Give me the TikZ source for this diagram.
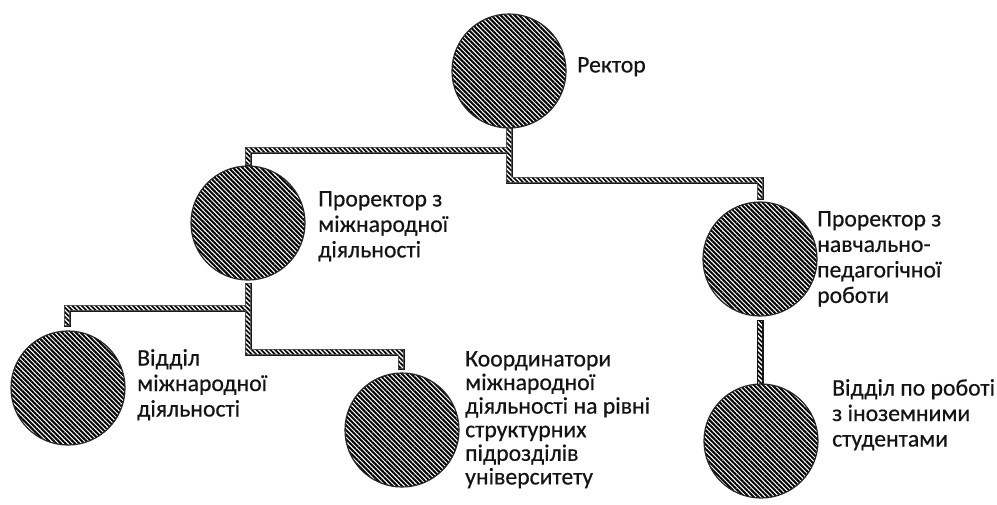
\documentclass[tikz,border=0pt]{standalone}
\usepackage{fontspec}
\setmainfont[FakeBold=0.5]{Carlito}
\usetikzlibrary{patterns.meta,calc}
\newcommand\barseg[2]{($(#1)+(-2.3,-2.3)$) rectangle ($(#2)+(2.3,2.3)$)}
\tikzset{
  unit/.style={circle, minimum size=114pt, inner sep=0pt, draw=black!85, line width=1.2pt,
    preaction={fill=white},
    pattern={Lines[angle=-45,distance=3.3pt,line width=2pt]}},
  lbl/.style={anchor=north west, align=left, inner sep=0pt, text=black!92,
    font=\fontsize{23.7}{25.5}\selectfont},
  barout/.style={line width=7pt, black!90, line cap=rect, line join=miter},
  barfill/.style={preaction={fill=white},
    pattern={Lines[angle=-45,distance=3.3pt,line width=1.7pt]}}
}
\begin{document}
\begin{tikzpicture}[x=1pt,y=-1pt]
\useasboundingbox (0,0) rectangle (997,504);
% junctions
\coordinate (a0) at (509,126);
\coordinate (a1) at (509,150);
\coordinate (a2) at (248,150);
\coordinate (a3) at (248,162);
\coordinate (a4) at (509,180);
\coordinate (a5) at (760,180);
\coordinate (a6) at (760,196);
\coordinate (b0) at (248,286);
\coordinate (b1) at (248,308);
\coordinate (b2) at (67,308);
\coordinate (b3) at (67,323);
\coordinate (b4) at (248,352);
\coordinate (b5) at (401,352);
\coordinate (b6) at (401,366);
\coordinate (c0) at (760,323);
\coordinate (c1) at (760,382);
% connectors: outlines
\draw[barout] (a0) -- (a1) -- (a2) -- (a3);
\draw[barout] (a1) -- (a4) -- (a5) -- (a6);
\draw[barout] (b0) -- (b1) -- (b2) -- (b3);
\draw[barout] (b1) -- (b4) -- (b5) -- (b6);
\draw[barout] (c0) -- (c1);
% connectors: hatched interiors
\path[barfill] \barseg{a0}{a1} \barseg{a2}{a1} \barseg{a2}{a3} \barseg{a1}{a4} \barseg{a4}{a5} \barseg{a5}{a6};
\path[barfill] \barseg{b0}{b1} \barseg{b2}{b1} \barseg{b2}{b3} \barseg{b1}{b4} \barseg{b4}{b5} \barseg{b5}{b6};
\path[barfill] \barseg{c0}{c1};
% units
\node[unit] (r)  at (509,71) {};
\node[unit] (p1) at (248,223) {};
\node[unit] (p2) at (760,259) {};
\node[unit] (d1) at (68,388) {};
\node[unit] (d2) at (402,430) {};
\node[unit] (d3) at (761,441) {};
% labels
\node[lbl] (lr)  at (577,57)  {Ректор};
\node[lbl] (lp1) at (318,191) {Проректор з\\міжнародної\\діяльності};
\node[lbl] (lp2) at (817,211) {Проректор з\\навчально-\\педагогічної\\роботи};
\node[lbl] (ld1) at (137,349) {Відділ\\міжнародної\\діяльності};
\node[lbl, font=\fontsize{23.7}{23.6}\selectfont] (ld2) at (465,351) {Координатори\\міжнародної\\діяльності на рівні\\структурних\\підрозділів\\університету};
\node[lbl] (ld3) at (832,379) {Відділ по роботі\\з іноземними\\студентами};
\end{tikzpicture}
\end{document}
